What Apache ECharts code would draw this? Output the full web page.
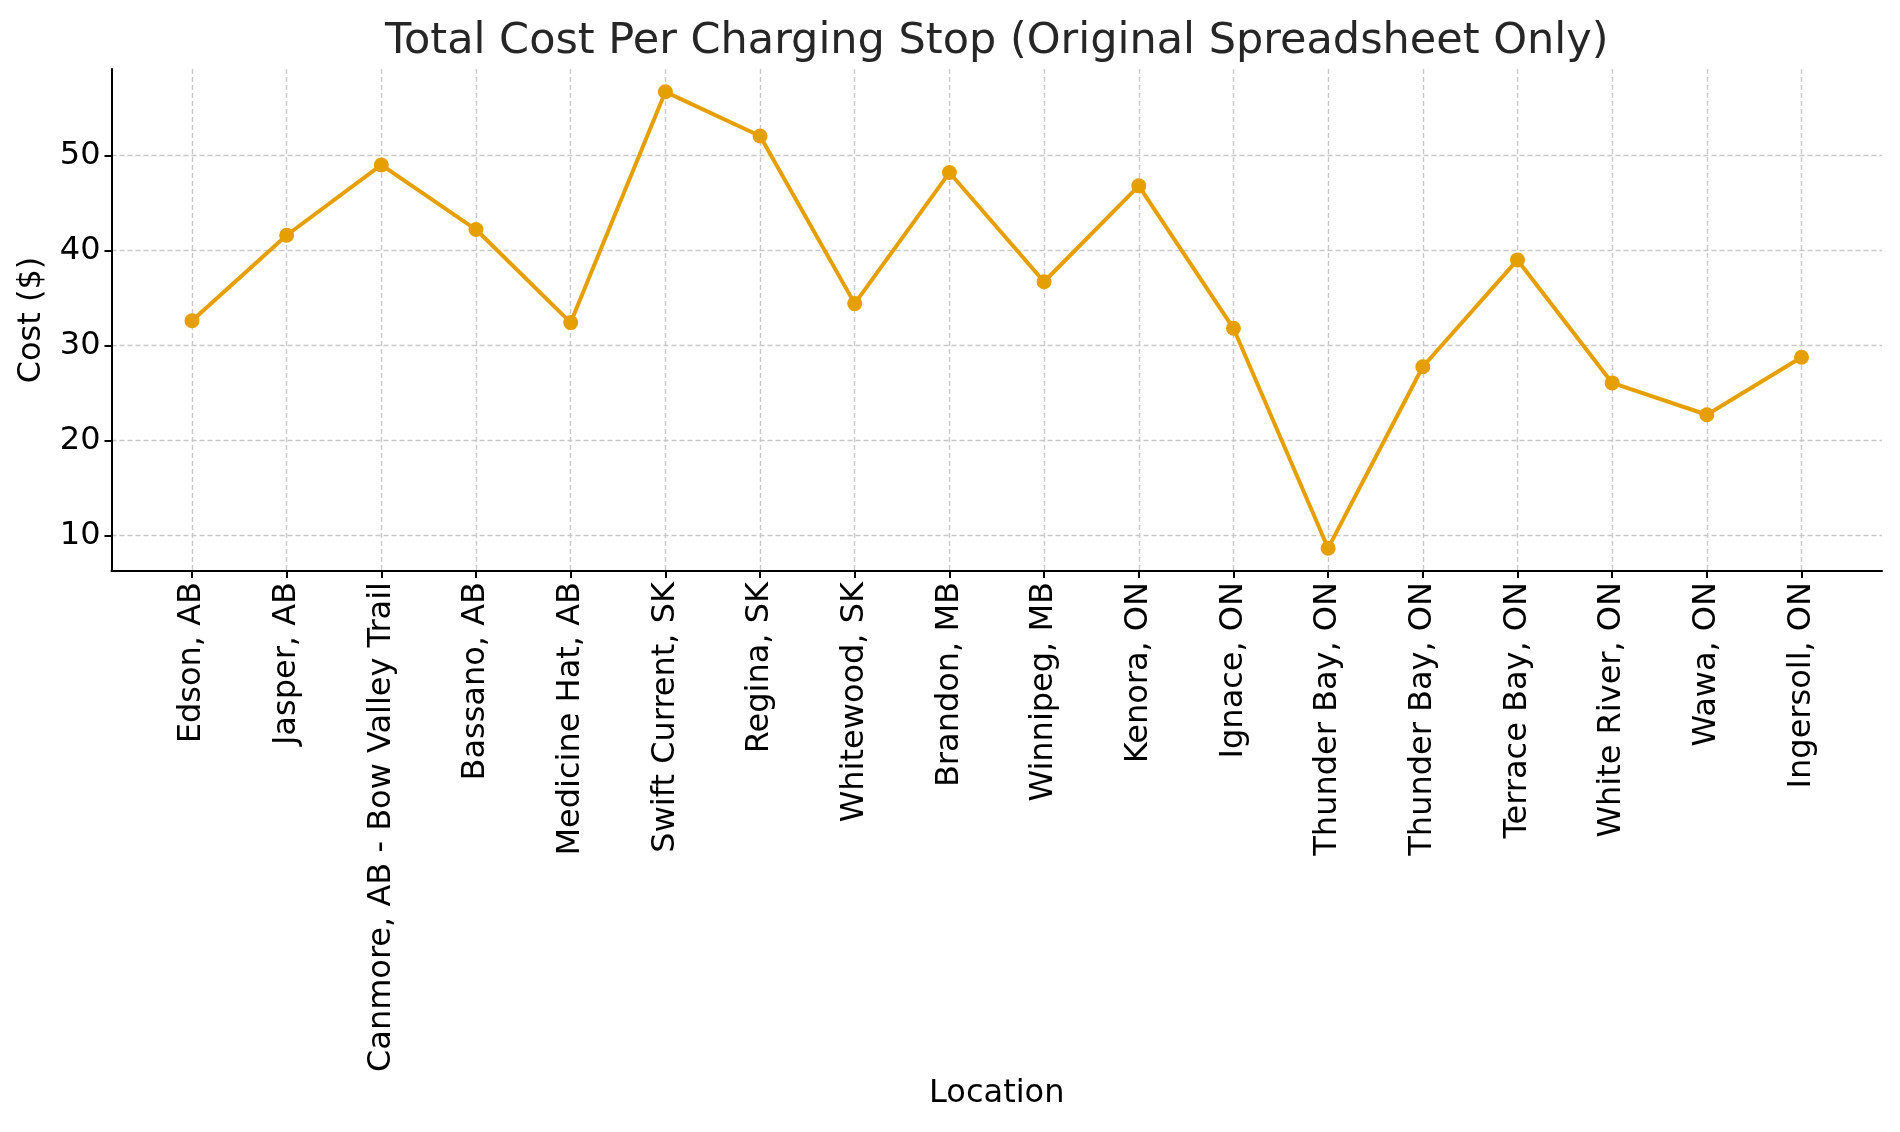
<!DOCTYPE html>
<html>
<head>
<meta charset="utf-8">
<script src="https://cdn.jsdelivr.net/npm/echarts@6/dist/echarts.min.js"></script>
<style>
html,body{margin:0;padding:0;background:#fff;}
#chart{width:1900px;height:1132px;}
</style>
</head>
<body>
<div id="chart"></div>
<script>
const locations = [
  'Edson, AB', 'Jasper, AB', 'Canmore, AB - Bow Valley Trail', 'Bassano, AB',
  'Medicine Hat, AB', 'Swift Current, SK', 'Regina, SK', 'Whitewood, SK',
  'Brandon, MB', 'Winnipeg, MB', 'Kenora, ON', 'Ignace, ON', 'Thunder Bay, ON',
  'Thunder Bay, ON', 'Terrace Bay, ON', 'White River, ON', 'Wawa, ON', 'Ingersoll, ON'
];
const costs = [32.6, 41.6, 49.0, 42.2, 32.4, 56.7, 52.05, 34.4, 48.2, 36.7, 46.8, 31.8, 8.65, 27.75, 39.0, 26.05, 22.7, 28.75];
const yTicks = [10, 20, 30, 40, 50];

const idx = locations.map((_, i) => i);
const n = locations.length;
const xPad = 0.05 * (n - 1);
const dMin = Math.min(...costs), dMax = Math.max(...costs);
const yPad = 0.05 * (dMax - dMin);
const FONT = 'DejaVu Sans';
const GRID_L = 111.5, GRID_R = 18;

const chart = echarts.init(document.getElementById('chart'), null, {renderer: 'canvas'});
chart.setOption({
  backgroundColor: '#ffffff',
  animation: false,
  textStyle: {fontFamily: FONT},
  title: {
    text: 'Total Cost Per Charging Stop (Original Spreadsheet Only)',
    left: GRID_L + (1900 - GRID_L - GRID_R) / 2,
    textAlign: 'center',
    top: 20,
    padding: 0,
    textStyle: {fontFamily: FONT, fontSize: 43, fontWeight: 'normal', color: '#262626', lineHeight: 43}
  },
  grid: {left: GRID_L, right: GRID_R, top: 69, bottom: 561, containLabel: false, outerBoundsMode: 'none'},
  xAxis: {
    type: 'value',
    min: -xPad,
    max: n - 1 + xPad,
    name: 'Location',
    nameLocation: 'middle',
    nameGap: 507,
    nameTextStyle: {fontFamily: FONT, fontSize: 32, color: '#000'},
    axisLine: {show: true, onZero: false, lineStyle: {color: '#000', width: 2}},
    axisTick: {show: true, inside: false, length: 7, customValues: idx, lineStyle: {color: '#000', width: 2}},
    axisLabel: {
      show: true, customValues: idx, rotate: 90, margin: 11,
      fontFamily: FONT, fontSize: 32, color: '#000',
      formatter: v => locations[Math.round(v)]
    },
    splitLine: {show: true, lineStyle: {color: '#c8c8c8', width: 1.4, type: [5, 3]}}
  },
  yAxis: {
    type: 'value',
    min: dMin - yPad,
    max: dMax + yPad,
    name: 'Cost ($)',
    nameLocation: 'middle',
    nameGap: 64,
    nameTextStyle: {fontFamily: FONT, fontSize: 32, color: '#000'},
    axisLine: {show: true, onZero: false, lineStyle: {color: '#000', width: 2}},
    axisTick: {show: true, inside: false, length: 7, customValues: yTicks, lineStyle: {color: '#000', width: 2}},
    axisLabel: {show: true, customValues: yTicks, margin: 11, fontFamily: FONT, fontSize: 32, color: '#000'},
    splitLine: {show: true, lineStyle: {color: '#c8c8c8', width: 1.4, type: [5, 3]}}
  },
  series: [{
    type: 'line',
    data: idx.map(i => [i, costs[i]]),
    symbol: 'circle',
    symbolSize: 15,
    color: '#E69F00',
    lineStyle: {width: 4, color: '#E69F00'},
    itemStyle: {color: '#E69F00'},
    z: 5
  }]
});
</script>
</body>
</html>
